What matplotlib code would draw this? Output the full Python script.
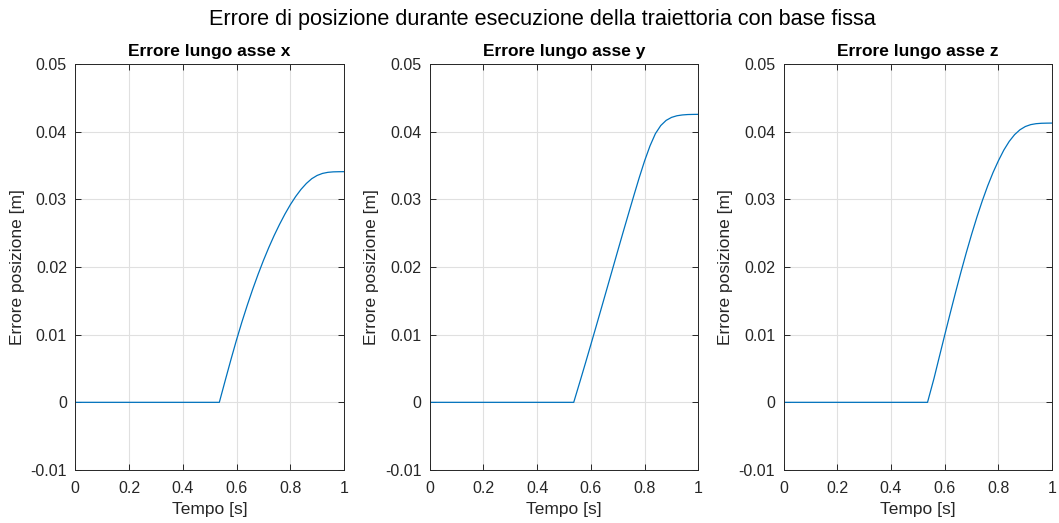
import matplotlib
matplotlib.use("Agg")
import matplotlib.pyplot as plt
from matplotlib.ticker import FuncFormatter

plt.rcParams['font.family'] = ['Liberation Sans', 'DejaVu Sans']

# Time samples [s]
t = [0.0, 0.536, 0.56, 0.58, 0.60, 0.62, 0.64, 0.66, 0.68, 0.70, 0.72, 0.74,
     0.76, 0.78, 0.80, 0.82, 0.84, 0.86, 0.88, 0.90, 0.92, 0.94, 0.96, 0.98, 1.00]

# Position error per axis [m]
err_x = [0.0, 0.0, 0.00353, 0.00643, 0.00923, 0.01187, 0.01435, 0.01669, 0.01889,
         0.02095, 0.02287, 0.02465, 0.02629, 0.02781, 0.02919, 0.03041, 0.03147,
         0.03235, 0.03305, 0.03353, 0.03383, 0.03399, 0.03406, 0.03408, 0.03409]
err_y = [0.0, 0.0, 0.00317, 0.00585, 0.00857, 0.01131, 0.01407, 0.01685, 0.01963,
         0.02241, 0.02517, 0.02789, 0.03059, 0.03323, 0.03571, 0.03791, 0.03971,
         0.04091, 0.04167, 0.04211, 0.04235, 0.04247, 0.04253, 0.04255, 0.04256]
err_z = [0.0, 0.0, 0.00352, 0.00674, 0.00994, 0.01310, 0.01620, 0.01920, 0.02208,
         0.02482, 0.02740, 0.02980, 0.03200, 0.03398, 0.03572, 0.03728, 0.03856,
         0.03956, 0.04028, 0.04076, 0.04104, 0.04118, 0.04124, 0.04126, 0.04127]

series = [err_x, err_y, err_z]
titles = ["Errore lungo asse x", "Errore lungo asse y", "Errore lungo asse z"]
xticks = [0, 0.2, 0.4, 0.6, 0.8, 1]
yticks = [-0.01, 0, 0.01, 0.02, 0.03, 0.04, 0.05]

TXT = '#262626'
W, H = 1059, 523
fig = plt.figure(figsize=(W / 100, H / 100), dpi=100)

lefts = [75.3, 429.7, 783.5]
ax_w = 268.7
top, bottom = 64, 470
fmt = FuncFormatter(lambda v, p: ('%g' % round(v, 4)))

for left, ys, title in zip(lefts, series, titles):
    ax = fig.add_axes([left / W, 1 - bottom / H, ax_w / W, (bottom - top) / H])
    ax.plot(t, ys, color='#0072BD', lw=0.9)
    ax.set_xlim(0, 1)
    ax.set_ylim(-0.01, 0.05)
    ax.set_xticks(xticks)
    ax.set_yticks(yticks)
    ax.xaxis.set_major_formatter(fmt)
    ax.yaxis.set_major_formatter(fmt)
    ax.grid(True, color='#e0e0e0', lw=0.8)
    ax.set_axisbelow(True)
    ax.tick_params(direction='in', top=True, right=True, length=4, width=0.7,
                   colors=TXT, labelsize=11.5)
    ax.tick_params(axis='x', pad=8)
    ax.tick_params(axis='y', pad=6)
    for s in ax.spines.values():
        s.set_color(TXT)
        s.set_linewidth(0.7)
    ax.set_title(title, fontsize=12.5, fontweight='bold', color='black', pad=6)
    ax.set_xlabel("Tempo [s]", fontsize=12.5, color=TXT, labelpad=4)
    ax.set_ylabel("Errore posizione [m]", fontsize=12.5, color=TXT, labelpad=4)

fig.suptitle("Errore di posizione durante esecuzione della traiettoria con base fissa",
             fontsize=15.6, x=542.5 / W, y=1 - 19 / H, va='center', color='black')

fig.savefig("out.png", dpi=100, facecolor='white')
